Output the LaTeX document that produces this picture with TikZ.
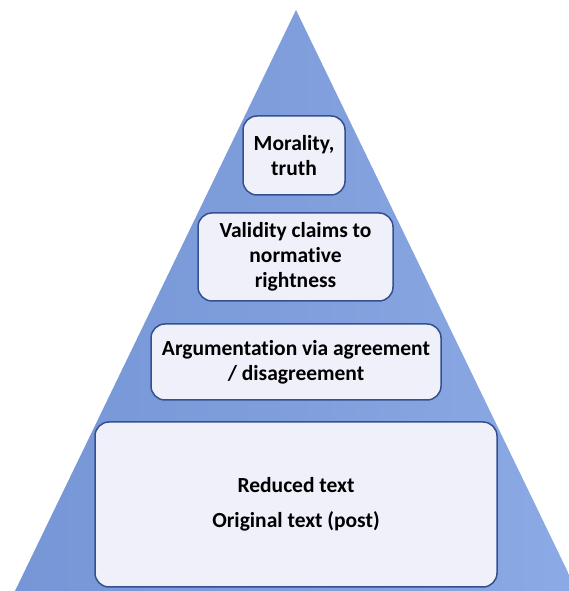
\documentclass[tikz,border=0pt]{standalone}
\usepackage{fontspec}
\setmainfont{Carlito}[Ligatures=NoCommon]
\definecolor{tri}{HTML}{7F9EDB}
\definecolor{trilight}{HTML}{8CAAE5}
\definecolor{tridark}{HTML}{7696D7}
\definecolor{boxfill}{HTML}{F0F0FA}
\definecolor{boxline}{HTML}{34508F}
\begin{document}
\begin{tikzpicture}[x=1pt,y=1pt,
  lvl/.style={draw=boxline, line width=1.5pt, fill=boxfill, rounded corners=14pt,
    align=center, font=\fontsize{21.5}{25}\selectfont\bfseries, inner sep=0pt, text=black}]
\useasboundingbox (0,0) rectangle (569,591);
\fill[white] (0,0) rectangle (569,591);
\begin{scope}
\clip (0,0) rectangle (569,591);
\coordinate (apex) at (296,581);
\coordinate (bl) at (15,0);
\coordinate (br) at (577,0);
\shade[left color=tridark, right color=trilight, middle color=tri] (apex) -- (br) -- (bl) -- cycle;
\end{scope}
\node[lvl, minimum width=102pt, minimum height=79pt] (moral) at (294,435.5) {Morality,\\truth};
\node[lvl, minimum width=195pt, minimum height=88pt] (valid) at (295.5,334) {Validity claims to\\normative\\rightness};
\node[lvl, minimum width=290pt, minimum height=76pt] (arg) at (296,229) {Argumentation via agreement\\/ disagreement};
\node[lvl, minimum width=402pt, minimum height=165pt] (red) at (296,86.5) {Reduced text\\[10pt]Original text (post)};
\end{tikzpicture}
\end{document}
